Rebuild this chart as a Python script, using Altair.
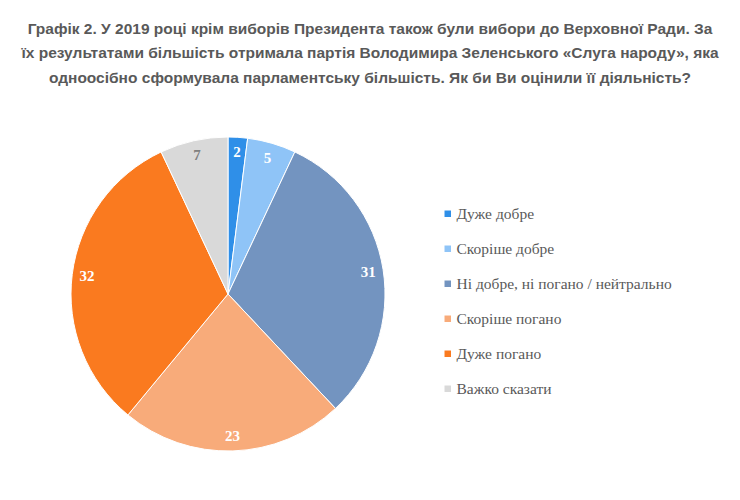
import altair as alt
import pandas as pd

categories = ["Дуже добре", "Скоріше добре", "Ні добре, ні погано / нейтрально",
              "Скоріше погано", "Дуже погано", "Важко сказати"]
values = [2, 5, 31, 23, 32, 7]
colors = ["#2f8fe8", "#8fc4f7", "#7394c0", "#f8ab7a", "#fa7a1f", "#d9d9d9"]
label_colors = ["#ffffff", "#ffffff", "#ffffff", "#ffffff", "#ffffff", "#808080"]
title_lines = [
    "Графік 2. У 2019 році крім виборів Президента також були вибори до Верховної Ради. За",
    "їх результатами більшість отримала партія Володимира Зеленського «Слуга народу», яка",
    "одноосібно сформувала парламентську більшість. Як би Ви оцінили її діяльність?",
]

df = pd.DataFrame({
    "cat": categories,
    "value": values,
    "order": list(range(len(values))),
    "lc": label_colors,
})

CX, CY, R = 220, 190, 157
SERIF = "Liberation Serif, Times New Roman, serif"

base = alt.Chart(df).encode(
    theta=alt.Theta("value:Q", stack=True),
    order=alt.Order("order:Q"),
)

pie = base.mark_arc(outerRadius=R, stroke="#ffffff", strokeWidth=1).encode(
    x=alt.value(CX), y=alt.value(CY),
    color=alt.Color(
        "cat:N",
        scale=alt.Scale(domain=categories, range=colors),
        sort=categories,
        legend=alt.Legend(
            title=None, orient="none", legendX=432, legendY=102,
            symbolType="square", symbolSize=42, symbolStrokeWidth=0,
            labelFont=SERIF, labelFontSize=15.5, labelColor="#595959",
            rowPadding=18, labelOffset=1, labelLimit=400,
        ),
    ),
)

labels = base.mark_text(
    radius=142, font=SERIF, fontSize=15, fontWeight="bold"
).encode(
    x=alt.value(CX), y=alt.value(CY),
    text=alt.Text("value:Q"),
    color=alt.Color("lc:N", scale=None),
)

chart = alt.layer(pie, labels).properties(
    width=724, height=380,
    padding={"left": 0, "right": 0, "top": 13, "bottom": 0},
    title=alt.TitleParams(
        text=title_lines, anchor="middle", font="Liberation Sans",
        fontSize=15.5, fontWeight="bold", color="#595959", lineHeight=24.5,
        offset=18,
    ),
).configure_view(stroke=None).configure_legend(labelFont=SERIF)

chart.save("out.html", embed_options={"renderer": "svg", "actions": False})
